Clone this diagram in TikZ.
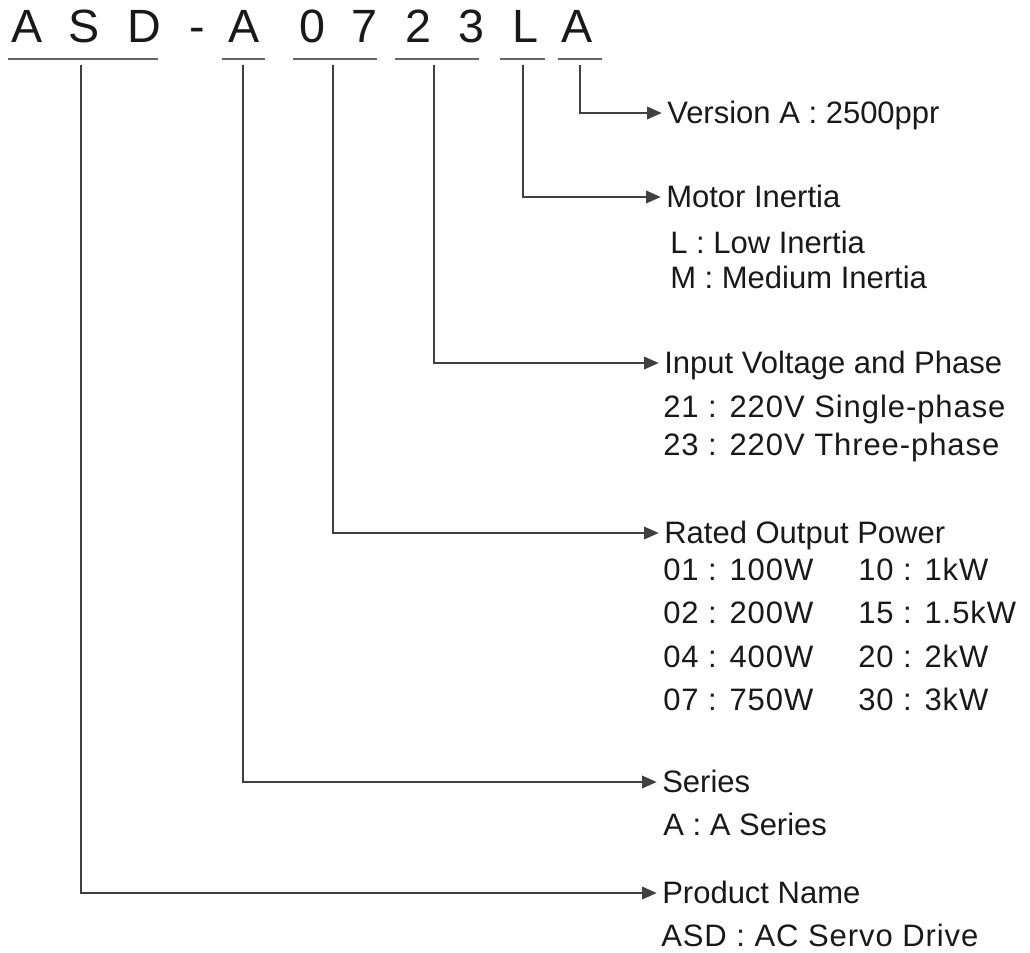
\documentclass[tikz,border=0pt]{standalone}
\usepackage{fontspec}
\setmainfont{Liberation Sans}
\usetikzlibrary{arrows.meta}

\begin{document}
\begin{tikzpicture}[x=0.75pt,y=-0.75pt]
      \tikzset{code/.style={anchor=base,inner sep=0pt,
          font=\fontsize{35}{40}\selectfont,text=black!90},
        bar/.style={line width=1.4pt,black!60},
        conn/.style={line width=1.1pt,black!75,
          -{Triangle[length=11pt,width=9.5pt]},shorten >=4pt},
        head/.style={anchor=west,inner sep=0pt,text height=16pt,text depth=0pt,
          font=\fontsize{23.25}{26}\selectfont,text=black!90},
        sub/.style={anchor=base west,inner sep=0pt,
          font=\fontsize{23.25}{26}\selectfont,text=black!90},
        wide/.style={sub,font=\fontsize{23.25}{26}\selectfont\addfontfeature{LetterSpace=3}}
      }
      \useasboundingbox (0,0) rectangle (1030,952);

      % model code
      \node [code] (cA) at (27,43) {A};
      \node [code] (cS) at (84,43) {S};
      \node [code] (cD) at (144,43) {D};
      \node [code] (cdash) at (197,43) {-};
      \node [code] (cser) at (244,43) {A};
      \node [code] (cp1) at (312,43) {0};
      \node [code] (cp2) at (364,43) {7};
      \node [code] (cv1) at (418,43) {2};
      \node [code] (cv2) at (471,43) {3};
      \node [code] (cin) at (525,43) {L};
      \node [code] (cver) at (577,43) {A};

      \draw [bar] (8,59) -- (158,59);
      \draw [bar] (222,59) -- (265,59);
      \draw [bar] (293,59) -- (377,59);
      \draw [bar] (395,59) -- (479,59);
      \draw [bar] (500,59) -- (545,59);
      \draw [bar] (558,59) -- (602,59);

      \coordinate (uname) at (81,65);
      \coordinate (useries) at (243,65);
      \coordinate (upower) at (333,65);
      \coordinate (uvolt) at (434,65);
      \coordinate (uinertia) at (523,65);
      \coordinate (uversion) at (580,65);

      % headings
      \node [head] (version) at (667,113) {Version A : 2500ppr};
      \node [head] (inertia) at (666,197) {Motor Inertia};
      \node [head] (volt) at (664,363) {Input Voltage and Phase};
      \node [head] (power) at (664,533) {Rated Output Power};
      \node [head] (series) at (662,782) {Series};
      \node [head] (name) at (662,893) {Product Name};

      \draw [conn] (uversion) |- (version.west);
      \draw [conn] (uinertia) |- (inertia.west);
      \draw [conn] (uvolt) |- (volt.west);
      \draw [conn] (upower) |- (power.west);
      \draw [conn] (useries) |- (series.west);
      \draw [conn] (uname) |- (name.west);

      % entries
      \node [sub] (inL) at (670,253) {L : Low Inertia};
      \node [sub] (inM) at (670,288) {M : Medium Inertia};
      \node [wide] (v21) at (663,417) {21 : 220V Single-phase};
      \node [wide] (v23) at (663,455) {23 : 220V Three-phase};
      \foreach \a/\b/\y [count=\i] in {01 : 100W/10 : 1kW/580, 02 : 200W/15 : 1.5kW/623,
          04 : 400W/20 : 2kW/667, 07 : 750W/30 : 3kW/710} {
        \node [wide] (pa\i) at (663,\y) {\a};
        \node [wide] (pb\i) at (858,\y) {\b};
      }
      \node [sub] (serA) at (663,835) {A : A Series};
      \node [wide] (nameASD) at (661,946) {ASD : AC Servo Drive};
\end{tikzpicture}
\end{document}
